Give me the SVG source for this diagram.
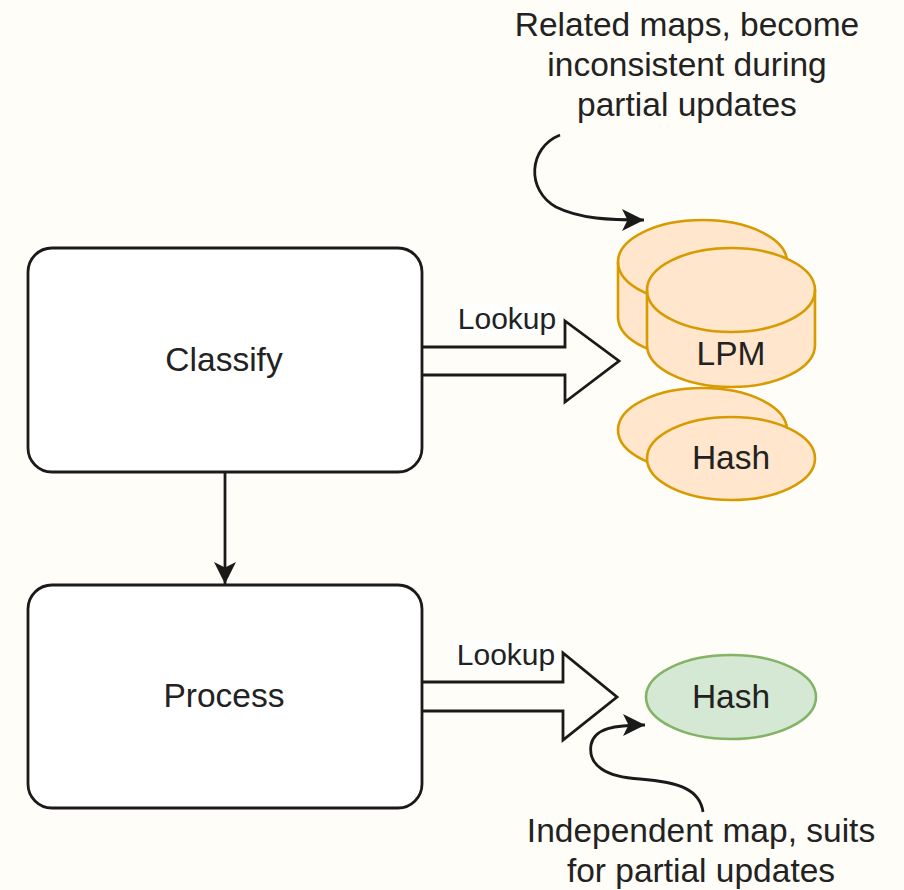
<svg xmlns="http://www.w3.org/2000/svg" width="904" height="890" viewBox="0 0 904 890">
  <defs>
    <style>
      .txt { font-family: "Liberation Sans", Arial, Helvetica, sans-serif; fill: #222222; text-anchor: middle; }
      .big { font-size: 33.5px; }
      .lbl { font-size: 30px; }
      .box { fill: #ffffff; stroke: #1a1a1a; stroke-width: 2.8; }
      .cyl { fill: #ffe6cc; stroke: #d79b00; stroke-width: 2.6; }
      .green { fill: #d5e8d4; stroke: #82b366; stroke-width: 2.6; }
      .line { fill: none; stroke: #1a1a1a; stroke-width: 2.8; }
      .flex { fill: #fffdf7; stroke: #1a1a1a; stroke-width: 2.8; stroke-linejoin: miter; }
    </style>
    <marker id="arrow" viewBox="0 0 10 10" refX="9" refY="5" markerWidth="8" markerHeight="8" markerUnits="userSpaceOnUse" orient="auto">
      <path d="M0,0 L10,5 L0,10 L2.5,5 Z" fill="#1a1a1a"/>
    </marker>
    <marker id="arrowBig" viewBox="0 0 10 10" refX="10" refY="5" markerWidth="22" markerHeight="22" markerUnits="userSpaceOnUse" orient="auto">
      <path d="M0,0 L10,5 L0,10 L2.5,5 Z" fill="#1a1a1a"/>
    </marker>
  </defs>

  <rect x="0" y="0" width="904" height="890" fill="#fffdf7"/>

  <!-- connectors -->
  <g id="connectors">
    <line class="line" x1="225" y1="473" x2="225" y2="584" marker-end="url(#arrowBig)"/>
    <path class="flex" d="M422,347 H565 V321 L619,361 L565,402 V375 H422"/>
    <rect x="456" y="304" width="101" height="30" fill="#ffffff"/>
    <text class="txt lbl" x="507" y="329">Lookup</text>
    <path class="flex" d="M422,682 H563 V653 L617,697 L563,740 V711 H422"/>
    <rect x="455" y="640" width="101" height="30" fill="#ffffff"/>
    <text class="txt lbl" x="506" y="665">Lookup</text>
    <path class="line" d="M560,135 C528,148 526,190 556,207 C580,219 610,220 644,220" marker-end="url(#arrowBig)"/>
    <path class="line" d="M703,812 C700,790 680,782 640,779 C605,777 588,765 591,745 C594,728 615,725 645,725" marker-end="url(#arrowBig)"/>
  </g>

  <!-- Classify step -->
  <g id="classify">
    <rect class="box" x="28" y="248" width="394" height="224" rx="24" ry="24"/>
    <text class="txt big" x="224" y="371">Classify</text>
  </g>

  <!-- Process step -->
  <g id="process">
    <rect class="box" x="28" y="585" width="394" height="223" rx="24" ry="24"/>
    <text class="txt big" x="224" y="707">Process</text>
  </g>

  <!-- LPM maps (stacked cylinders) -->
  <g id="lpm-maps">
    <path class="cyl" d="M618,262 A84.5,42 0 0 1 787,262 V317 A84.5,42 0 0 1 618,317 Z"/>
    <path class="cyl" style="fill:none" d="M618,262 A84.5,42 0 0 0 787,262"/>
    <path class="cyl" d="M647,290 A84,42 0 0 1 815,290 V345 A84,42 0 0 1 647,345 Z"/>
    <path class="cyl" style="fill:none" d="M647,290 A84,42 0 0 0 815,290"/>
    <text class="txt big" x="731" y="365">LPM</text>
  </g>

  <!-- Hash maps (stacked) -->
  <g id="hash-maps">
    <ellipse class="cyl" cx="702.5" cy="430" rx="84.5" ry="42"/>
    <ellipse class="cyl" cx="731" cy="458.5" rx="84" ry="41.5"/>
    <text class="txt big" x="731" y="469">Hash</text>
  </g>

  <!-- independent hash map -->
  <g id="hash-independent">
    <ellipse class="green" cx="731" cy="697" rx="85" ry="42"/>
    <text class="txt big" x="731" y="708">Hash</text>
  </g>

  <!-- notes -->
  <g id="note-related">
    <text class="txt big" x="687" y="36">Related maps, become</text>
    <text class="txt big" x="687" y="76">inconsistent during</text>
    <text class="txt big" x="687" y="116">partial updates</text>
  </g>
  <g id="note-independent">
    <text class="txt big" x="701" y="842">Independent map, suits</text>
    <text class="txt big" x="701" y="882">for partial updates</text>
  </g>
</svg>
